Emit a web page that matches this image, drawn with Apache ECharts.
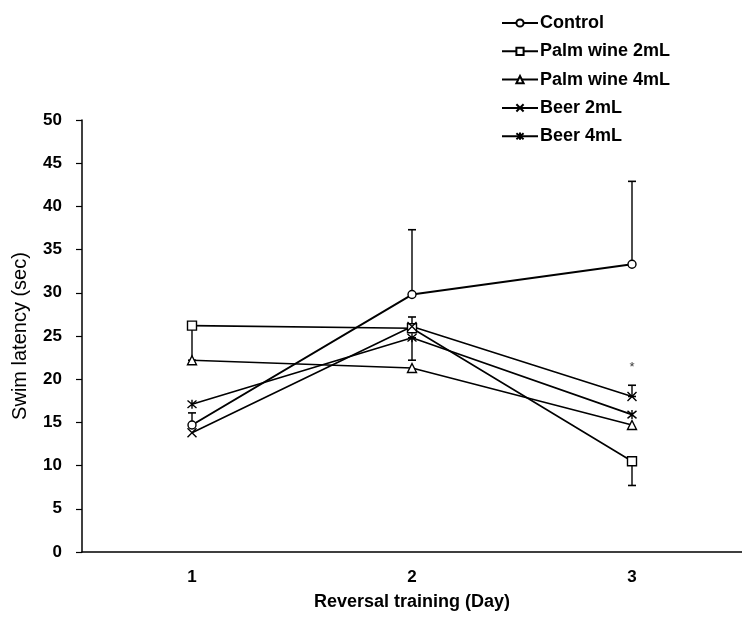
<!DOCTYPE html>
<html>
<head>
<meta charset="utf-8">
<script src="https://cdn.jsdelivr.net/npm/echarts@6/dist/echarts.min.js"></script>
<style>
html,body{margin:0;padding:0;background:#fff;}
#chart{width:742px;height:635px;}
</style>
</head>
<body>
<div id="chart"></div>
<script>
// ---- data ----
const categories = ['1', '2', '3'];
const seriesNames = ['Control', 'Palm wine 2mL', 'Palm wine 4mL', 'Beer 2mL', 'Beer 4mL'];
const control = [14.7, 29.8, 33.3];
const palm2 = [26.2, 25.9, 10.5];
const palm4 = [22.2, 21.3, 14.7];
const beer2 = [13.8, 26.1, 18.0];
const beer4 = [17.1, 24.8, 15.9];
// error bars (one-sided as drawn)
const controlErrUp = [1.4, 7.5, 9.6];
const palm2ErrDown = [4.0, 0, 2.8];
const beer2ErrUp = [0, 1.1, 1.3];
const beer4ErrDown = [0, 2.6, 0];
// significance marks
const sigText = ['', '', '*'];
const sigY = [null, null, 21.4];
const yTicks = [0, 50, 5]; // min, max, interval

// ---- build ----
const FONT = '"Liberation Sans", Arial, sans-serif';
const valuesList = [control, palm2, palm4, beer2, beer4];
const symbols = [
  'circle',
  'rect',
  'triangle',
  'path://M0,0L10,10M10,0L0,10',
  'path://M0,0L10,10M10,0L0,10M5,-1L5,11'
];
const symbolSizes = [8, 9, 9, 9, 9];

const errData = [];
function addErr(vals, errs, dir) {
  errs.forEach((e, i) => {
    if (e > 0) {
      const v = vals[i];
      errData.push(dir > 0 ? [i, v, v + e] : [i, v - e, v]);
    }
  });
}
addErr(control, controlErrUp, 1);
addErr(palm2, palm2ErrDown, -1);
addErr(beer2, beer2ErrUp, 1);
addErr(beer4, beer4ErrDown, -1);

const sigData = [];
sigY.forEach((y, i) => { if (y != null) sigData.push({ value: [i, y], label: { formatter: sigText[i] } }); });

const series = seriesNames.map((name, k) => ({
  name: name,
  type: 'line',
  data: valuesList[k],
  symbol: symbols[k],
  symbolSize: symbolSizes[k],
  showAllSymbol: true,
  z: 3,
  lineStyle: { color: '#000', width: k === 0 ? 2 : 1.6 },
  itemStyle: { color: '#fff', borderColor: '#000', borderWidth: 1.4 },
  emphasis: { disabled: true },
  animation: false
}));

series.push({
  type: 'custom',
  name: 'err',
  z: 1,
  animation: false,
  data: errData,
  renderItem: function (params, api) {
    const x = api.value(0);
    const lo = api.coord([x, api.value(1)]);
    const hi = api.coord([x, api.value(2)]);
    const w = 4;
    return {
      type: 'group',
      children: [
        { type: 'line', shape: { x1: lo[0], y1: lo[1], x2: hi[0], y2: hi[1] }, style: { stroke: '#000', lineWidth: 1.4 } },
        { type: 'line', shape: { x1: lo[0] - w, y1: lo[1], x2: lo[0] + w, y2: lo[1] }, style: { stroke: '#000', lineWidth: 1.6 } },
        { type: 'line', shape: { x1: hi[0] - w, y1: hi[1], x2: hi[0] + w, y2: hi[1] }, style: { stroke: '#000', lineWidth: 1.6 } }
      ]
    };
  }
});

series.push({
  type: 'scatter',
  name: 'sig',
  symbolSize: 0,
  z: 4,
  animation: false,
  data: sigData,
  label: { show: true, position: 'inside', color: '#000', fontSize: 13, fontFamily: FONT }
});

const chart = echarts.init(document.getElementById('chart'), null, { renderer: 'canvas' });
chart.setOption({
  backgroundColor: '#fff',
  animation: false,
  grid: { left: 82, top: 120, bottom: 83, width: 670 },
  legend: {
    data: seriesNames,
    orient: 'vertical',
    left: 496,
    top: 9,
    itemWidth: 36,
    itemHeight: 9,
    itemGap: 10.3,
    textStyle: { color: '#000', fontSize: 18, fontWeight: 'bold', fontFamily: FONT, padding: [0, 0, 0, -3] },
    selectedMode: false
  },
  xAxis: {
    type: 'category',
    data: categories,
    boundaryGap: true,
    name: 'Reversal training (Day)',
    nameLocation: 'middle',
    nameGap: 41,
    nameTextStyle: { color: '#000', fontSize: 18, fontWeight: 'bold', fontFamily: FONT },
    axisLine: { lineStyle: { color: '#000', width: 1.5 } },
    axisTick: { show: false },
    axisLabel: { color: '#000', fontSize: 17, fontWeight: 'bold', fontFamily: FONT, margin: 17 },
    splitLine: { show: false }
  },
  yAxis: {
    type: 'value',
    min: yTicks[0],
    max: yTicks[1],
    interval: yTicks[2],
    name: 'Swim latency (sec)',
    nameLocation: 'middle',
    nameGap: 52,
    nameTextStyle: { color: '#000', fontSize: 20, fontFamily: FONT },
    axisLine: { show: true, lineStyle: { color: '#000', width: 1.5 } },
    axisTick: { show: true, length: 6, lineStyle: { color: '#000', width: 1.2 } },
    axisLabel: { color: '#000', fontSize: 17, fontWeight: 'bold', fontFamily: FONT, margin: 20 },
    splitLine: { show: false }
  },
  series: series
});
</script>
</body>
</html>
